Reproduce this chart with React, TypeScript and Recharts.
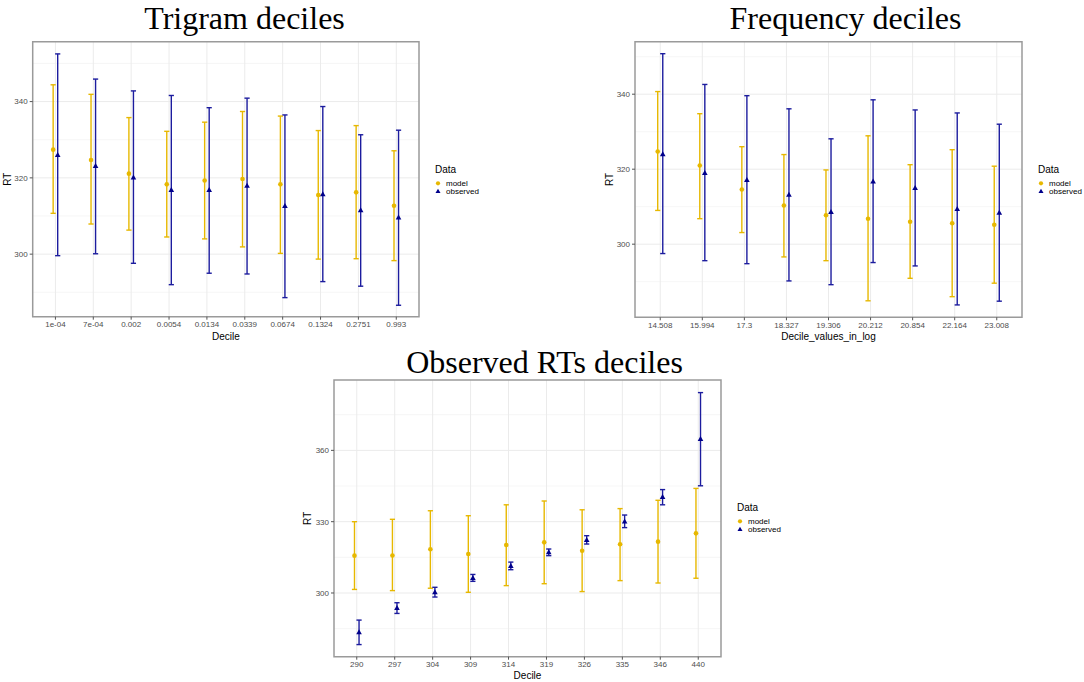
import {
  ScatterChart,
  Scatter,
  XAxis,
  YAxis,
  CartesianGrid,
  ErrorBar,
  Legend,
  ReferenceArea,
} from 'recharts';

// ---- Trigram deciles ----
const trigramLabels = ['1e-04', '7e-04', '0.002', '0.0054', '0.0134', '0.0339', '0.0674', '0.1324', '0.2751', '0.993'];
const trigramModelMean = [327.4, 324.7, 321.1, 318.3, 319.3, 319.7, 318.3, 315.5, 316.2, 312.7];
const trigramModelLow = [310.7, 307.9, 306.3, 304.5, 304.0, 301.9, 300.2, 298.7, 298.8, 298.3];
const trigramModelHigh = [344.4, 341.9, 335.8, 332.2, 334.6, 337.4, 336.2, 332.4, 333.7, 327.1];
const trigramObsMean = [326.0, 323.1, 320.1, 316.8, 316.8, 317.9, 312.6, 315.7, 311.5, 309.6];
const trigramObsLow = [299.6, 300.1, 297.6, 292.0, 295.0, 294.8, 288.6, 292.8, 291.6, 286.6];
const trigramObsHigh = [352.5, 345.9, 342.8, 341.6, 338.4, 340.9, 336.5, 338.7, 331.3, 332.5];

// ---- Frequency deciles ----
const freqLabels = ['14.508', '15.994', '17.3', '18.327', '19.306', '20.212', '20.854', '22.164', '23.008'];
const freqModelMean = [324.7, 321.0, 314.6, 310.3, 307.7, 306.8, 306.0, 305.6, 305.2];
const freqModelLow = [309.0, 306.8, 303.1, 296.6, 295.6, 284.9, 290.9, 286.0, 289.6];
const freqModelHigh = [340.7, 334.8, 326.0, 323.9, 319.8, 328.9, 321.2, 325.2, 320.8];
const freqObsMean = [324.0, 319.0, 317.1, 313.2, 308.6, 316.7, 315.0, 309.4, 308.4];
const freqObsLow = [297.5, 295.6, 294.8, 290.2, 289.2, 295.1, 294.2, 283.8, 284.8];
const freqObsHigh = [350.8, 342.6, 339.6, 336.1, 328.1, 338.5, 335.8, 335.0, 332.0];

// ---- Observed RTs deciles ----
const rtLabels = ['290', '297', '304', '309', '314', '319', '326', '335', '346', '440'];
const rtModelMean = [315.7, 315.8, 318.4, 316.4, 320.2, 321.3, 317.8, 320.5, 321.6, 325.1];
const rtModelLow = [301.5, 301.0, 302.0, 300.3, 303.1, 303.9, 300.6, 305.2, 304.2, 306.2];
const rtModelHigh = [330.0, 331.0, 334.6, 332.5, 337.1, 338.7, 335.0, 335.5, 339.0, 344.0];
const rtObsMean = [283.5, 293.7, 300.3, 306.3, 311.4, 317.1, 322.3, 330.1, 340.4, 364.8];
const rtObsLow = [278.3, 291.4, 298.3, 304.9, 309.8, 315.7, 320.6, 327.5, 337.1, 345.1];
const rtObsHigh = [288.6, 295.9, 302.4, 307.8, 313.0, 318.5, 324.1, 332.8, 343.5, 384.3];

const GOLD = '#E7B800';
const NAVY_BAR = '#1C1C9E';
const NAVY = '#00008B';
const DODGE = 0.06;
const SANS = '"Liberation Sans", Arial, Helvetica, sans-serif';
const SERIF = '"Liberation Serif", "Times New Roman", serif';

function buildRows(mean: number[], low: number[], high: number[], shift: number) {
  return mean.map((m, i) => ({ x: i + 1 + shift, y: m, err: [m - low[i], high[i] - m] }));
}

// small ggplot-like point shapes
function dotShape(props: any) {
  const { cx, cy } = props;
  if (cx == null || cy == null) return <g />;
  return <circle cx={cx} cy={cy} r={2.3} fill={GOLD} />;
}

function triangleShape(props: any) {
  const { cx, cy } = props;
  if (cx == null || cy == null) return <g />;
  return (
    <polygon
      points={`${cx},${cy - 3} ${cx + 2.8},${cy + 2} ${cx - 2.8},${cy + 2}`}
      fill={NAVY}
    />
  );
}

function DataLegend({ payload }: any) {
  return (
    <svg width={70} height={32} style={{ display: 'block', overflow: 'visible' }}>
      <text x={1} y={9.3} fontSize={10} fontFamily={SANS} fill="#000">
        Data
      </text>
      {(payload || []).map((p: any, i: number) => {
        const cy = 19.3 + i * 8;
        return (
          <g key={p.value}>
            {p.value === 'observed' ? (
              <polygon points={`4,${cy - 2.6} ${6.5},${cy + 1.8} ${1.5},${cy + 1.8}`} fill={NAVY} />
            ) : (
              <circle cx={4} cy={cy} r={2.1} fill={GOLD} />
            )}
            <text x={12} y={cy + 2.9} fontSize={8} fontFamily={SANS} fill="#000">
              {p.value}
            </text>
          </g>
        );
      })}
    </svg>
  );
}

interface PanelProps {
  labels: string[];
  modelMean: number[];
  modelLow: number[];
  modelHigh: number[];
  obsMean: number[];
  obsLow: number[];
  obsHigh: number[];
  yDomain: [number, number];
  yTicks: number[];
  yMinor: number[];
  left: number;
  top: number;
  width: number;
  height: number;
  marginTop: number;
  marginRight: number;
  yAxisWidth: number;
  xAxisHeight: number;
}

function DecilePanel(props: PanelProps) {
  const {
    labels, modelMean, modelLow, modelHigh, obsMean, obsLow, obsHigh,
    yDomain, yTicks, yMinor, left, top, width, height, marginTop, marginRight, yAxisWidth, xAxisHeight,
  } = props;
  const xTicks = labels.map((_, i) => i + 1);
  const xDomain: [number, number] = [0.4, labels.length + 0.6];
  const modelRows = buildRows(modelMean, modelLow, modelHigh, -DODGE);
  const obsRows = buildRows(obsMean, obsLow, obsHigh, DODGE);
  const plotRight = width - marginRight;

  return (
    <div style={{ position: 'absolute', left, top }}>
      <ScatterChart
        width={width}
        height={height}
        margin={{ top: marginTop, right: marginRight, bottom: 0, left: 0 }}
      >
        <CartesianGrid
          stroke="#F0F0F0"
          strokeWidth={0.6}
          vertical={false}
          horizontalValues={yMinor}
        />
        <CartesianGrid stroke="#EBEBEB" strokeWidth={1} horizontalValues={yTicks} verticalValues={xTicks} />
        <XAxis
          type="number"
          dataKey="x"
          domain={xDomain}
          ticks={xTicks}
          allowDataOverflow
          tickFormatter={(v: number) => labels[Math.round(v) - 1] ?? ''}
          height={xAxisHeight}
          axisLine={false}
          tickSize={3}
          tickMargin={2}
          tickLine={{ stroke: '#555', strokeWidth: 1 }}
          tick={{ fontSize: 8, fill: '#4D4D4D', fontFamily: SANS }}
          interval={0}
        />
        <YAxis
          type="number"
          dataKey="y"
          domain={yDomain}
          ticks={yTicks}
          allowDataOverflow
          width={yAxisWidth}
          axisLine={false}
          tickSize={3}
          tickMargin={2}
          tickLine={{ stroke: '#555', strokeWidth: 1 }}
          tick={{ fontSize: 8, fill: '#4D4D4D', fontFamily: SANS }}
        />
        <ReferenceArea
          x1={xDomain[0]}
          x2={xDomain[1]}
          y1={yDomain[0]}
          y2={yDomain[1]}
          fill="none"
          stroke="#9A9A9A"
          strokeWidth={1.5}
          ifOverflow="visible"
        />
        <Legend
          layout="horizontal"
          align="center"
          verticalAlign="middle"
          content={<DataLegend />}
          wrapperStyle={{ left: plotRight + 15, top: marginTop + 122, width: 70, height: 32 }}
        />
        <Scatter
          name="model"
          data={modelRows}
          fill={GOLD}
          shape={dotShape}
          legendType="circle"
          isAnimationActive={false}
        >
          <ErrorBar dataKey="err" direction="y" width={2.6} stroke={GOLD} strokeWidth={1.4} />
        </Scatter>
        <Scatter
          name="observed"
          data={obsRows}
          fill={NAVY}
          shape={triangleShape}
          legendType="triangle"
          isAnimationActive={false}
        >
          <ErrorBar dataKey="err" direction="y" width={2.6} stroke={NAVY_BAR} strokeWidth={1.4} />
        </Scatter>
      </ScatterChart>
    </div>
  );
}

export default function App() {
  return (
    <div
      style={{
        position: 'absolute',
        left: 0,
        top: 0,
        width: 1084,
        height: 682,
        background: '#fff',
        fontFamily: SANS,
      }}
    >
      <DecilePanel
        labels={trigramLabels}
        modelMean={trigramModelMean}
        modelLow={trigramModelLow}
        modelHigh={trigramModelHigh}
        obsMean={trigramObsMean}
        obsLow={trigramObsLow}
        obsHigh={trigramObsHigh}
        yDomain={[283.6, 355.7]}
        yTicks={[300, 320, 340]}
        yMinor={[290, 310, 330, 350]}
        left={0}
        top={0}
        width={540}
        height={345}
        marginTop={41.7}
        marginRight={121}
        yAxisWidth={32.7}
        xAxisHeight={28.3}
      />
      <DecilePanel
        labels={freqLabels}
        modelMean={freqModelMean}
        modelLow={freqModelLow}
        modelHigh={freqModelHigh}
        obsMean={freqObsMean}
        obsLow={freqObsLow}
        obsHigh={freqObsHigh}
        yDomain={[280.5, 354.0]}
        yTicks={[300, 320, 340]}
        yMinor={[290, 310, 330, 350]}
        left={600}
        top={0}
        width={484}
        height={345}
        marginTop={41.7}
        marginRight={62}
        yAxisWidth={35}
        xAxisHeight={27.7}
      />
      <DecilePanel
        labels={rtLabels}
        modelMean={rtModelMean}
        modelLow={rtModelLow}
        modelHigh={rtModelHigh}
        obsMean={rtObsMean}
        obsLow={rtObsLow}
        obsHigh={rtObsHigh}
        yDomain={[273.2, 389.6]}
        yTicks={[300, 330, 360]}
        yMinor={[285, 315, 345, 375]}
        left={300}
        top={340}
        width={490}
        height={342}
        marginTop={40}
        marginRight={69}
        yAxisWidth={34}
        xAxisHeight={25.3}
      />
      <svg
        width={1084}
        height={682}
        style={{ position: 'absolute', left: 0, top: 0, pointerEvents: 'none' }}
      >
        <g fontFamily={SERIF} fontSize={32} fill="#000" textAnchor="middle">
          <text x={244.5} y={28.6}>Trigram deciles</text>
          <text x={845.5} y={28.6}>Frequency deciles</text>
          <text x={544.5} y={372.7}>Observed RTs deciles</text>
        </g>
        <g fontFamily={SANS} fontSize={10} fill="#000" textAnchor="middle">
          <text x={225.9} y={339.6}>Decile</text>
          <text x={828.5} y={339.6}>Decile_values_in_log</text>
          <text x={527.5} y={679}>Decile</text>
          <text x={10.6} y={179.2} transform="rotate(-90 10.6 179.2)">RT</text>
          <text x={612.8} y={179.5} transform="rotate(-90 612.8 179.5)">RT</text>
          <text x={311.4} y={518.3} transform="rotate(-90 311.4 518.3)">RT</text>
        </g>
      </svg>
    </div>
  );
}
